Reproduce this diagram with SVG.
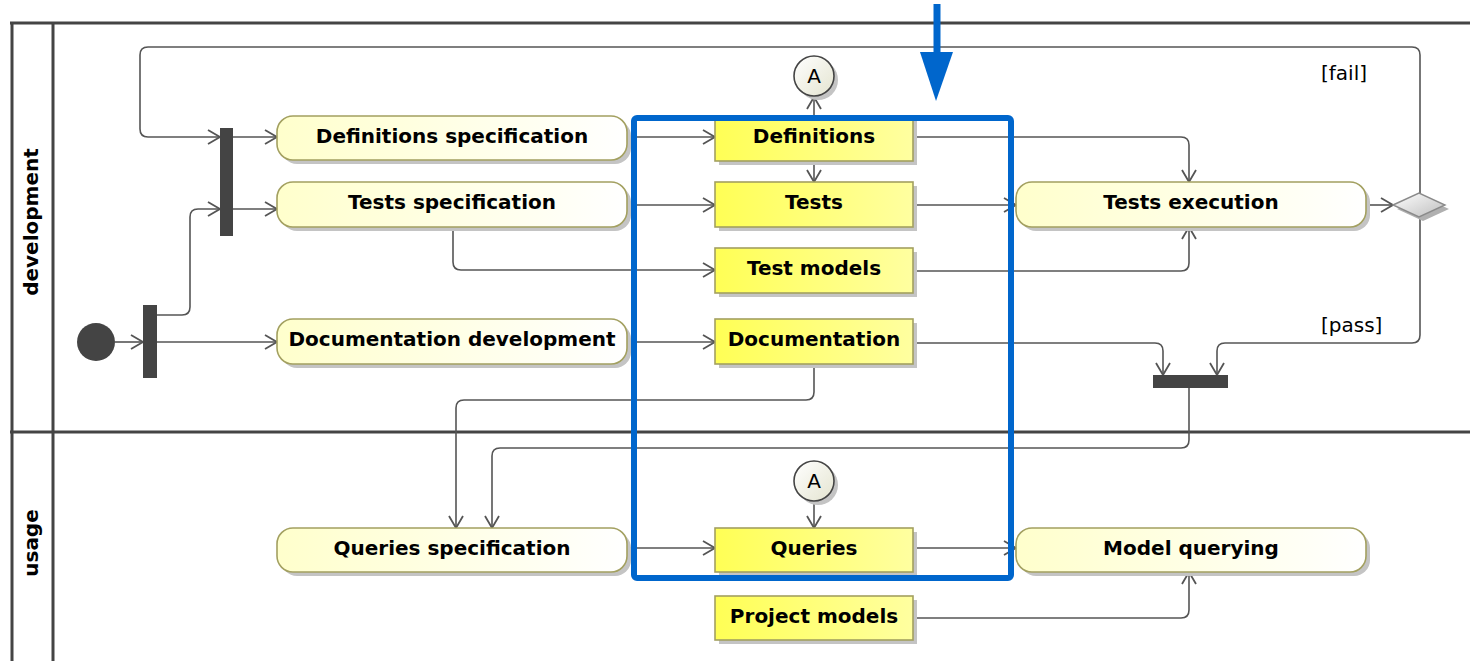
<svg xmlns="http://www.w3.org/2000/svg" width="1470" height="661" viewBox="0 0 1470 661">
<style>
.lane{stroke:#444;stroke-width:3;fill:none}
.con{stroke:#555;stroke-width:1.6;fill:none;marker-end:url(#arr)}
.act{fill:url(#gAct);stroke:#a3a060;stroke-width:1.6}
.obj{fill:url(#gObj);stroke:#a3a060;stroke-width:1.6}
.sh{fill:#c4c4c4}
.lbl{font-family:"DejaVu Sans",sans-serif;font-weight:bold;font-size:20px;fill:#000;text-anchor:middle}
.grd{font-family:"DejaVu Sans",sans-serif;font-size:20px;fill:#000}
.bar{fill:#444}
</style>
<defs>
<linearGradient id="gAct" x1="0" y1="0" x2="1" y2="0"><stop offset="0" stop-color="#ffffcc"/><stop offset="1" stop-color="#ffffff"/></linearGradient>
<linearGradient id="gObj" x1="0" y1="0" x2="1" y2="0"><stop offset="0" stop-color="#ffff55"/><stop offset="1" stop-color="#ffffa0"/></linearGradient>
<linearGradient id="gCir" x1="0" y1="0" x2="1" y2="1"><stop offset="0" stop-color="#ffffff"/><stop offset="1" stop-color="#e4e4d0"/></linearGradient>
<linearGradient id="gDia" x1="0" y1="0" x2="1" y2="1"><stop offset="0" stop-color="#ffffff"/><stop offset="1" stop-color="#bdbdbd"/></linearGradient>
<marker id="arr" viewBox="-14 -9 16 18" markerWidth="16" markerHeight="18" refX="0" refY="0" orient="auto" markerUnits="userSpaceOnUse">
<path d="M-12,-7 L0,0 L-12,7" fill="none" stroke="#555" stroke-width="1.8"/>
</marker>
</defs>

<g id="swimlanes">
<path class="lane" d="M10,23 H1470 M12,23 V661 M53,23 V661 M10,432 H1470"/>
<text class="lbl" transform="translate(38,222) rotate(-90)">development</text>
<text class="lbl" transform="translate(38,543) rotate(-90)">usage</text>
</g>

<g id="connectors">
<path class="con" d="M115,342 H143"/>
<path class="con" d="M157,342 H277"/>
<path class="con" d="M157,315 H182 Q190,315 190,307 V217 Q190,209 198,209 H220"/>
<path class="con" d="M233,137 H277"/>
<path class="con" d="M233,209 H277"/>
<path class="con" d="M627,137 H715"/>
<path class="con" d="M627,205 H715"/>
<path class="con" d="M453,227 V262 Q453,270 461,270 H715"/>
<path class="con" d="M627,342 H715"/>
<path class="con" d="M814,161 V182"/>
<path class="con" d="M814,116 V97"/>
<path class="con" d="M913,137 H1181 Q1189,137 1189,145 V182"/>
<path class="con" d="M913,205 H1016"/>
<path class="con" d="M913,271 H1181 Q1189,271 1189,263 V227"/>
<path class="con" d="M1366,205 H1393"/>
<path class="con" d="M1420,193 V55 Q1420,47 1412,47 H148 Q140,47 140,55 V129 Q140,137 148,137 H220"/>
<path class="con" d="M1420,217 V335 Q1420,343 1412,343 H1225 Q1217,343 1217,351 V375"/>
<path class="con" d="M913,343 H1155 Q1163,343 1163,351 V375"/>
<path class="con" d="M1189,388 V440 Q1189,448 1181,448 H500 Q492,448 492,456 V528"/>
<path class="con" d="M814,364 V392 Q814,400 806,400 H464 Q456,400 456,408 V528"/>
<path class="con" d="M814,501 V528"/>
<path class="con" d="M627,548 H715"/>
<path class="con" d="M913,548 H1016"/>
<path class="con" d="M913,618 H1181 Q1189,618 1189,610 V572"/>
</g>

<g id="initial"><circle cx="96" cy="342" r="19" fill="#444"/></g>
<g id="fork1"><rect class="bar" x="143" y="305" width="14" height="73"/></g>
<g id="fork2"><rect class="bar" x="220" y="128" width="13" height="108"/></g>
<g id="join"><rect class="bar" x="1153" y="375" width="75" height="13"/></g>

<g id="defspec"><rect class="sh" x="281" y="120" width="350" height="44" rx="16"/><rect class="act" x="277" y="116" width="350" height="44" rx="16"/><text class="lbl" x="452" y="143">Definitions specification</text></g>
<g id="testspec"><rect class="sh" x="281" y="186" width="350" height="45" rx="16"/><rect class="act" x="277" y="182" width="350" height="45" rx="16"/><text class="lbl" x="452" y="209">Tests specification</text></g>
<g id="docdev"><rect class="sh" x="281" y="323" width="350" height="45" rx="16"/><rect class="act" x="277" y="319" width="350" height="45" rx="16"/><text class="lbl" x="452" y="346">Documentation development</text></g>
<g id="queryspec"><rect class="sh" x="281" y="532" width="350" height="44" rx="16"/><rect class="act" x="277" y="528" width="350" height="44" rx="16"/><text class="lbl" x="452" y="555">Queries specification</text></g>

<g id="definitions"><rect class="sh" x="719" y="120" width="198" height="45"/><rect class="obj" x="715" y="116" width="198" height="45"/><text class="lbl" x="814" y="143">Definitions</text></g>
<g id="tests"><rect class="sh" x="719" y="186" width="198" height="45"/><rect class="obj" x="715" y="182" width="198" height="45"/><text class="lbl" x="814" y="209">Tests</text></g>
<g id="testmodels"><rect class="sh" x="719" y="252" width="198" height="45"/><rect class="obj" x="715" y="248" width="198" height="45"/><text class="lbl" x="814" y="275">Test models</text></g>
<g id="documentation"><rect class="sh" x="719" y="323" width="198" height="45"/><rect class="obj" x="715" y="319" width="198" height="45"/><text class="lbl" x="814" y="346">Documentation</text></g>
<g id="queries"><rect class="sh" x="719" y="532" width="198" height="44"/><rect class="obj" x="715" y="528" width="198" height="44"/><text class="lbl" x="814" y="555">Queries</text></g>
<g id="projectmodels"><rect class="sh" x="719" y="600" width="198" height="44"/><rect class="obj" x="715" y="596" width="198" height="44"/><text class="lbl" x="814" y="623">Project models</text></g>

<g id="testsexec"><rect class="sh" x="1020" y="186" width="350" height="45" rx="16"/><rect class="act" x="1016" y="182" width="350" height="45" rx="16"/><text class="lbl" x="1191" y="209">Tests execution</text></g>
<g id="modelquery"><rect class="sh" x="1020" y="532" width="350" height="44" rx="16"/><rect class="act" x="1016" y="528" width="350" height="44" rx="16"/><text class="lbl" x="1191" y="555">Model querying</text></g>

<g id="decision"><polygon points="1397,209 1423,197 1449,209 1423,221" fill="#b0b0b0"/><polygon points="1393,205 1419,193 1445,205 1419,217" fill="url(#gDia)" stroke="#8a8a8a" stroke-width="1.4"/></g>

<g id="connA1"><circle cx="818" cy="80" r="20" fill="#c4c4c4"/><circle cx="814" cy="76" r="20" fill="url(#gCir)" stroke="#444" stroke-width="1.6"/><text class="grd" x="814" y="83" text-anchor="middle">A</text></g>
<g id="connA2"><circle cx="818" cy="485" r="20" fill="#c4c4c4"/><circle cx="814" cy="481" r="20" fill="url(#gCir)" stroke="#444" stroke-width="1.6"/><text class="grd" x="814" y="488" text-anchor="middle">A</text></g>

<g id="guards">
<text class="grd" x="1321" y="80">[fail]</text>
<text class="grd" x="1321" y="332">[pass]</text>
</g>

<g id="highlight">
<rect x="634" y="118" width="377" height="460" rx="3" fill="none" stroke="#0066cc" stroke-width="6"/>
<line x1="937" y1="4" x2="937" y2="54" stroke="#0066cc" stroke-width="7"/>
<polygon points="920,52 953,52 936,101" fill="#0066cc"/>
</g>
</svg>
